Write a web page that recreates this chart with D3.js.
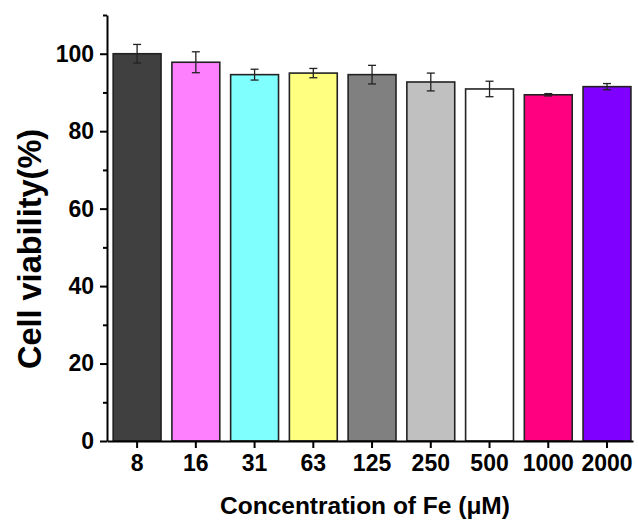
<!DOCTYPE html>
<html><head><meta charset="utf-8">
<script src="https://cdn.jsdelivr.net/npm/d3@7"></script>
<style>body{margin:0;background:#fff}svg{display:block}text{font-family:"Liberation Sans",Arial,sans-serif;font-weight:bold}</style>
</head><body><svg id="c" width="638" height="520"></svg>
<script>
const categories = ["8","16","31","63","125","250","500","1000","2000"];
const values = [100.0, 97.8, 94.6, 95.0, 94.6, 92.7, 90.9, 89.4, 91.5];
const errors = [2.4, 2.7, 1.4, 1.2, 2.4, 2.3, 2.0, 0.3, 0.8];
const colors = ["#404040","#ff80ff","#80ffff","#ffff80","#808080","#c0c0c0","#ffffff","#ff0080","#8000ff"];
const yTicks = [0,20,40,60,80,100];
const yMinor = [10,30,50,70,90,110];

const svg = d3.select("#c");
const x = d3.scaleBand().domain(categories).range([107,633]).paddingInner(0.185).paddingOuter(0.07).align(0.75);
const y = d3.scaleLinear().domain([0,110]).range([441,15]);

// bars
svg.append("g").selectAll("rect").data(categories).join("rect")
  .attr("x", d=>x(d)).attr("width", x.bandwidth())
  .attr("y", (d,i)=>y(values[i])).attr("height", (d,i)=>y(0)-y(values[i]))
  .attr("fill", (d,i)=>colors[i]).attr("stroke","#222").attr("stroke-width",1.6);

// error bars
const eb = svg.append("g").attr("stroke","#222").attr("stroke-width",1.3);
categories.forEach((d,i)=>{
  const cx = x(d)+x.bandwidth()/2;
  const t = y(values[i]+errors[i]), b = y(values[i]-errors[i]);
  eb.append("line").attr("x1",cx).attr("x2",cx).attr("y1",t).attr("y2",b);
  eb.append("line").attr("x1",cx-4).attr("x2",cx+4).attr("y1",t).attr("y2",t);
  eb.append("line").attr("x1",cx-4).attr("x2",cx+4).attr("y1",b).attr("y2",b);
});

// y axis
const ya = svg.append("g").attr("transform","translate(107,0)")
  .call(d3.axisLeft(y).tickValues(yTicks).tickSize(7).tickPadding(6).tickSizeOuter(0));
ya.select(".domain").attr("stroke","#000").attr("stroke-width",2);
ya.selectAll(".tick line").attr("stroke","#000").attr("stroke-width",2);
ya.selectAll(".tick text").style("font-size","23px").attr("fill","#000");
const ym = svg.append("g").attr("transform","translate(107,0)")
  .call(d3.axisLeft(y).tickValues(yMinor).tickSize(4).tickFormat("").tickSizeOuter(0));
ym.select(".domain").remove();
ym.selectAll(".tick line").attr("stroke","#000").attr("stroke-width",2);

// x axis
const xa = svg.append("g").attr("transform","translate(0,441)")
  .call(d3.axisBottom(x).tickSize(7).tickPadding(7).tickSizeOuter(0));
xa.select(".domain").attr("stroke","#000").attr("stroke-width",2);
xa.selectAll(".tick line").attr("stroke","#000").attr("stroke-width",2);
xa.selectAll(".tick text").style("font-size","23px").attr("fill","#000");

// titles
svg.append("text").attr("x",365).attr("y",514).attr("text-anchor","middle")
  .style("font-size","24.5px").text("Concentration of Fe (μM)");
svg.append("text").attr("transform","translate(41,249) rotate(-90)").attr("text-anchor","middle")
  .style("font-size","32.5px").text("Cell viability(%)");
</script></body></html>
